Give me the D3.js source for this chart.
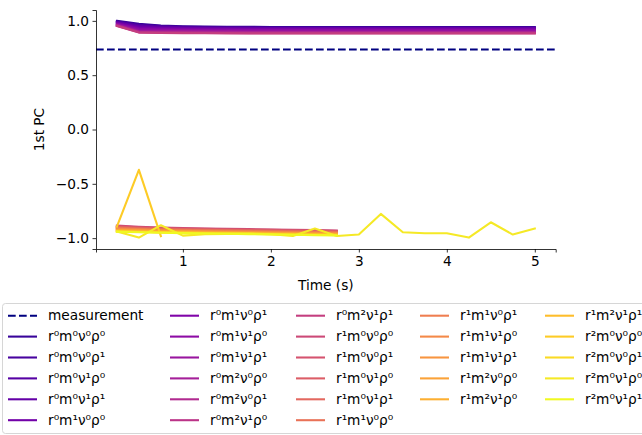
<!DOCTYPE html>
<html><head><meta charset="utf-8">
<script src="https://cdn.jsdelivr.net/npm/d3@7"></script>
<style>
html,body{margin:0;padding:0;background:#fff;}
text{font-family:"DejaVu Sans",sans-serif;}
</style></head>
<body><svg id="c" width="642" height="435"></svg>
<script>
// ---- data ----
const timesFull = [0.25,0.5,0.75,1.0,1.25,1.5,1.75,2.0,2.25,2.5,2.75,3.0,3.25,3.5,3.75,4.0,4.25,4.5,4.75,5.0];
const timesMid = [0.25,0.5,0.75,1.0,1.25,1.5,1.75,2.0,2.25,2.5,2.75];
const timesShort = [0.25,0.5,0.75];
const measurement = 0.737;
const seriesNames = ["r⁰m⁰ν⁰ρ⁰","r⁰m⁰ν⁰ρ¹","r⁰m⁰ν¹ρ⁰","r⁰m⁰ν¹ρ¹","r⁰m¹ν⁰ρ⁰","r⁰m¹ν⁰ρ¹","r⁰m¹ν¹ρ⁰","r⁰m¹ν¹ρ¹","r⁰m²ν⁰ρ⁰","r⁰m²ν⁰ρ¹","r⁰m²ν¹ρ⁰","r⁰m²ν¹ρ¹","r¹m⁰ν⁰ρ⁰","r¹m⁰ν⁰ρ¹","r¹m⁰ν¹ρ⁰","r¹m⁰ν¹ρ¹","r¹m¹ν⁰ρ⁰","r¹m¹ν⁰ρ¹","r¹m¹ν¹ρ⁰","r¹m¹ν¹ρ¹","r¹m²ν⁰ρ⁰","r¹m²ν¹ρ⁰","r¹m²ν¹ρ¹","r²m⁰ν⁰ρ⁰","r²m⁰ν⁰ρ¹","r²m⁰ν¹ρ⁰","r²m⁰ν¹ρ¹"];
const seriesTimes = ["full","full","full","full","full","full","full","full","full","full","full","full",
 "mid","mid","mid","mid","mid","mid","mid","mid","mid","mid","mid","short","mid","full","mid"];
const seriesValues = [
 [1.000,0.972,0.958,0.951,0.948,0.946,0.945,0.944,0.944,0.943,0.943,0.943,0.943,0.943,0.943,0.943,0.943,0.943,0.943,0.943],
 [0.995,0.965,0.952,0.946,0.943,0.941,0.940,0.939,0.939,0.938,0.938,0.938,0.938,0.938,0.938,0.938,0.938,0.938,0.938,0.938],
 [0.990,0.958,0.947,0.942,0.939,0.937,0.936,0.935,0.935,0.935,0.935,0.935,0.935,0.935,0.935,0.935,0.935,0.935,0.935,0.935],
 [0.985,0.950,0.941,0.937,0.935,0.933,0.932,0.931,0.931,0.931,0.931,0.931,0.931,0.931,0.931,0.931,0.931,0.931,0.931,0.931],
 [0.980,0.940,0.934,0.931,0.929,0.928,0.927,0.927,0.927,0.927,0.927,0.927,0.927,0.927,0.927,0.927,0.927,0.927,0.927,0.927],
 [0.975,0.932,0.927,0.925,0.923,0.922,0.921,0.921,0.921,0.921,0.921,0.921,0.921,0.921,0.921,0.921,0.921,0.921,0.921,0.921],
 [0.970,0.922,0.918,0.916,0.915,0.914,0.913,0.913,0.913,0.913,0.913,0.913,0.913,0.913,0.913,0.913,0.913,0.913,0.913,0.913],
 [0.965,0.912,0.909,0.908,0.907,0.906,0.905,0.905,0.905,0.905,0.905,0.905,0.905,0.905,0.905,0.905,0.905,0.905,0.905,0.905],
 [0.962,0.905,0.902,0.901,0.900,0.899,0.898,0.898,0.898,0.898,0.898,0.898,0.898,0.898,0.898,0.898,0.898,0.898,0.898,0.898],
 [0.958,0.900,0.896,0.895,0.894,0.893,0.892,0.892,0.892,0.892,0.892,0.892,0.892,0.892,0.892,0.892,0.892,0.892,0.892,0.892],
 [0.955,0.895,0.891,0.890,0.889,0.888,0.887,0.887,0.887,0.887,0.887,0.887,0.887,0.887,0.887,0.887,0.887,0.887,0.887,0.887],
 [0.952,0.892,0.888,0.887,0.886,0.885,0.884,0.884,0.884,0.884,0.884,0.884,0.884,0.884,0.884,0.884,0.884,0.884,0.884,0.884],
 [-0.885,-0.895,-0.902,-0.907,-0.911,-0.914,-0.917,-0.920,-0.923,-0.926,-0.930],
 [-0.890,-0.900,-0.906,-0.911,-0.915,-0.918,-0.921,-0.924,-0.927,-0.930,-0.934],
 [-0.895,-0.905,-0.911,-0.916,-0.920,-0.923,-0.926,-0.929,-0.932,-0.935,-0.938],
 [-0.900,-0.910,-0.916,-0.920,-0.924,-0.927,-0.930,-0.933,-0.936,-0.939,-0.942],
 [-0.905,-0.914,-0.920,-0.924,-0.928,-0.931,-0.934,-0.937,-0.940,-0.943,-0.946],
 [-0.910,-0.918,-0.924,-0.928,-0.932,-0.935,-0.938,-0.941,-0.944,-0.947,-0.950],
 [-0.915,-0.922,-0.928,-0.932,-0.936,-0.939,-0.942,-0.945,-0.948,-0.951,-0.954],
 [-0.920,-0.927,-0.932,-0.936,-0.940,-0.943,-0.946,-0.949,-0.952,-0.955,-0.958],
 [-0.925,-0.931,-0.936,-0.940,-0.944,-0.947,-0.950,-0.953,-0.956,-0.959,-0.962],
 [-0.930,-0.936,-0.941,-0.945,-0.948,-0.951,-0.954,-0.957,-0.960,-0.963,-0.966],
 [-0.935,-0.940,-0.945,-0.949,-0.952,-0.955,-0.958,-0.961,-0.964,-0.967,-0.970],
 [-0.894,-0.371,-0.982],
 [-0.938,-0.943,-0.947,-0.951,-0.954,-0.957,-0.960,-0.963,-0.966,-0.969,-0.972],
 [-0.940,-0.995,-0.881,-0.977,-0.964,-0.961,-0.958,-0.964,-0.980,-0.912,-0.980,-0.967,-0.777,-0.946,-0.955,-0.955,-0.995,-0.854,-0.967,-0.912],
 [-0.941,-0.946,-0.950,-0.954,-0.957,-0.960,-0.963,-0.966,-0.969,-0.972,-0.975]
];
const xTicks = [1,2,3,4,5];
const yTicks = [-1.0,-0.5,0.0,0.5,1.0];

// ---- chart ----
const svg = d3.select("#c");
const ml = 96, mr = 555.7, mt = 10, mb = 249;
const x = d3.scaleLinear().domain([0.0125, 5.2375]).range([ml, mr]);
const y = d3.scaleLinear().domain([-1.1, 1.1]).range([mb, mt]);
const timeSets = {full: timesFull, mid: timesMid, short: timesShort};
const n = seriesNames.length;
const color = i => d3.interpolatePlasma(0.08 + 0.92 * i / (n - 1));

const line = d3.line().x(d => x(d[0])).y(d => y(d[1]));

// measurement
svg.append("line").attr("x1", ml).attr("x2", mr)
  .attr("y1", y(measurement)).attr("y2", y(measurement))
  .attr("stroke", "#000080").attr("stroke-width", 2.08)
  .attr("stroke-dasharray", "7.7,3.3");

seriesNames.forEach((name, i) => {
  const ts = timeSets[seriesTimes[i]];
  const pts = seriesValues[i].map((v, k) => [ts[k], v]);
  svg.append("path").attr("d", line(pts)).attr("fill", "none")
    .attr("stroke", color(i)).attr("stroke-width", 2.08)
    .attr("stroke-linejoin", "round").attr("stroke-linecap", "square");
});

// axes
const xAxis = svg.append("g").attr("transform", `translate(0,${mb})`)
  .call(d3.axisBottom(x).tickValues(xTicks).tickFormat(d3.format("d")).tickSizeOuter(0).tickSize(3.5).tickPadding(3.5));
const yAxis = svg.append("g").attr("transform", `translate(${ml},0)`)
  .call(d3.axisLeft(y).tickValues(yTicks).tickFormat(d => d3.format(".1f")(d).replace("-", "−")).tickSizeOuter(0).tickSize(3.5).tickPadding(3.5));
[xAxis, yAxis].forEach(g => {
  g.selectAll("text").attr("font-size", "13.7px").attr("fill", "#000").attr("font-family", "DejaVu Sans");
  g.selectAll("line").attr("stroke", "#000").attr("stroke-width", 0.8);
  g.select(".domain").attr("stroke", "#000").attr("stroke-width", 0.8);
});
svg.append("text").attr("x", (ml + mr) / 2).attr("y", 290).attr("text-anchor", "middle")
  .attr("font-size", "13.7px").text("Time (s)");
svg.append("text").attr("transform", `translate(44,${(mt + mb) / 2}) rotate(-90)`)
  .attr("text-anchor", "middle").attr("font-size", "13.7px").text("1st PC");

// legend
const lg = svg.append("g");
lg.append("rect").attr("x", 2.5).attr("y", 303.5).attr("width", 700).attr("height", 130)
  .attr("rx", 3).attr("fill", "#fff").attr("stroke", "#d6d6d6").attr("stroke-width", 1);
const entries = [{label: "measurement", color: "#000080", dash: true}]
  .concat(seriesNames.map((s, i) => ({label: s, color: color(i), dash: false})));
const ncol = 5, nrows = Math.ceil(entries.length / ncol);
const extra = entries.length % ncol;
const colX = [8, 170, 296, 420, 545];
let idx = 0;
for (let c = 0; c < ncol; c++) {
  const cnt = (extra === 0 || c < extra) ? nrows : nrows - 1;
  for (let r = 0; r < cnt; r++, idx++) {
    const e = entries[idx];
    const yy = 315.7 + r * 20.9;
    lg.append("line").attr("x1", colX[c]).attr("x2", colX[c] + 29).attr("y1", yy).attr("y2", yy)
      .attr("stroke", e.color).attr("stroke-width", 2.08)
      .attr("stroke-dasharray", e.dash ? "7.7,3.3" : null);
    lg.append("text").attr("x", colX[c] + 40).attr("y", yy).attr("dy", "0.35em")
      .attr("font-size", "13.7px").text(e.label);
  }
}
</script></body></html>
